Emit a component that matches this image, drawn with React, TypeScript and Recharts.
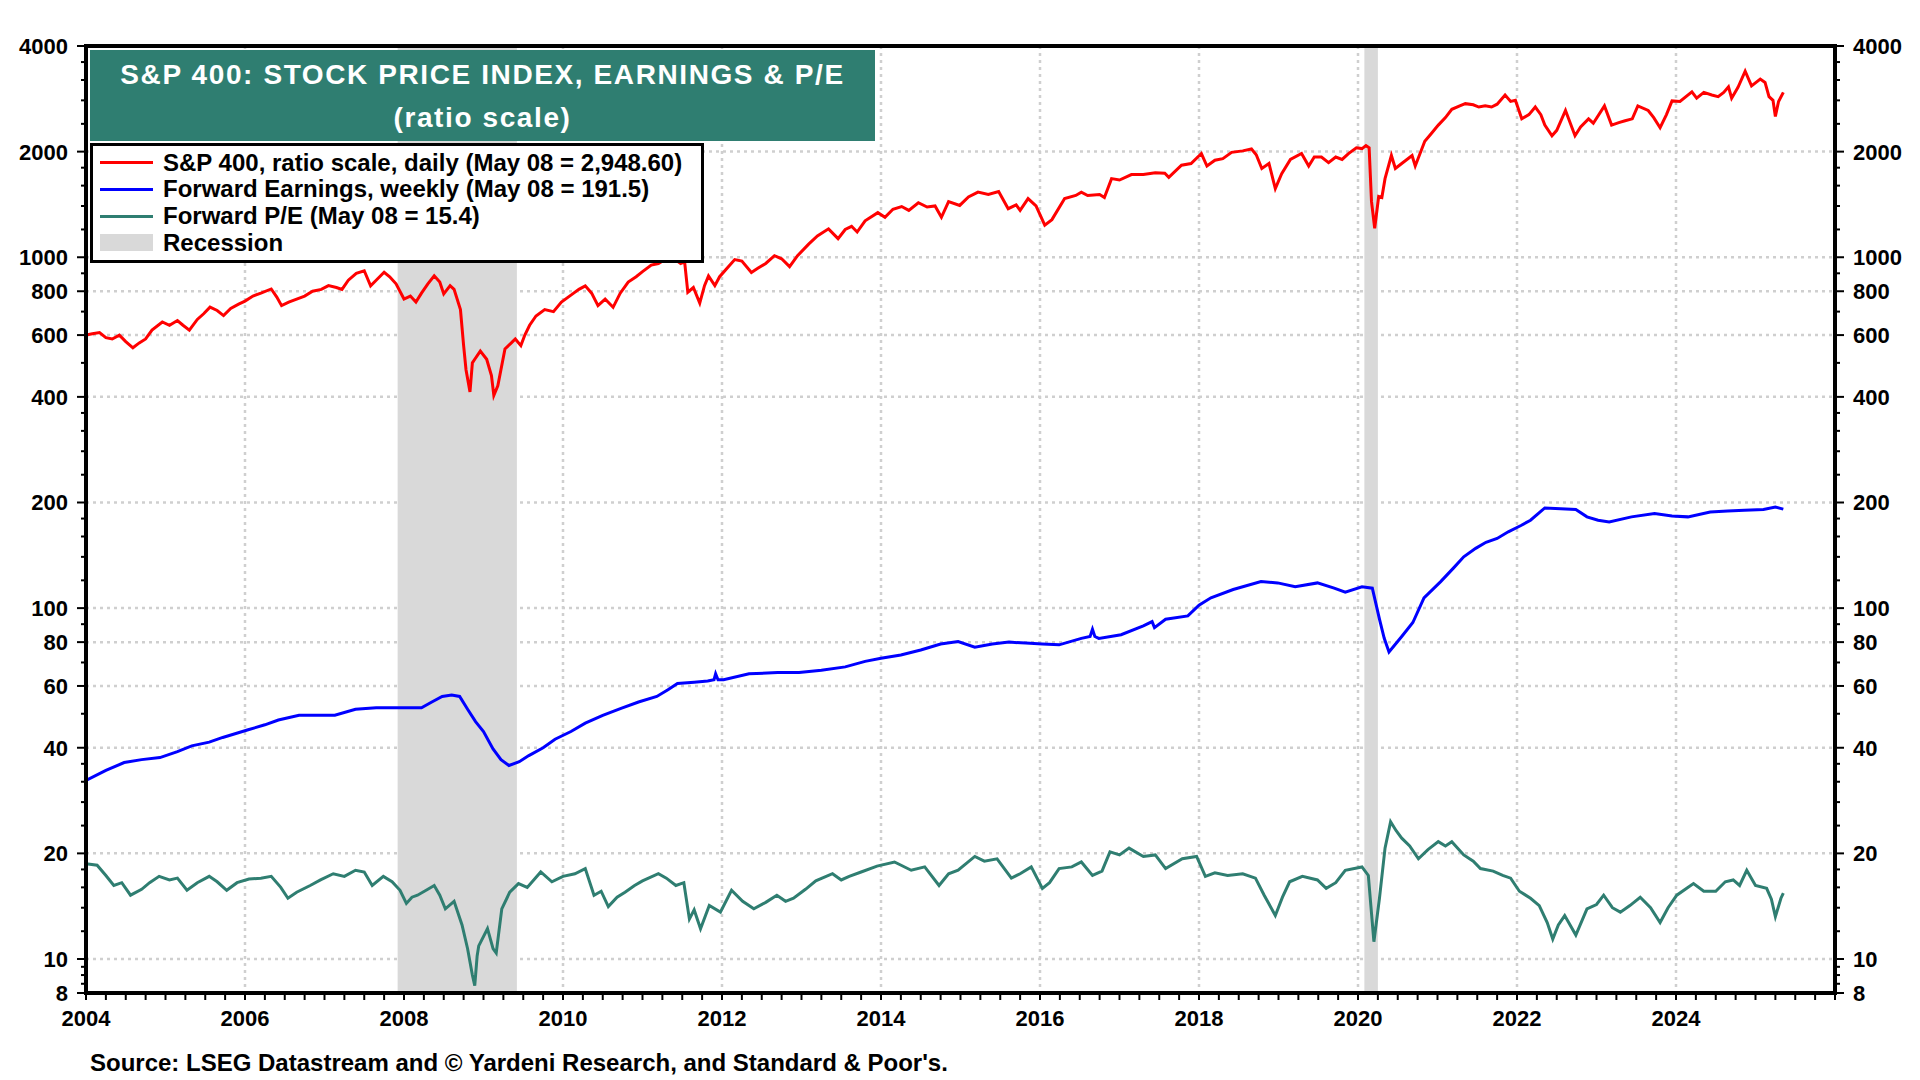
import { ComposedChart, Line, XAxis, YAxis, CartesianGrid, ReferenceArea } from "recharts";

// S&P 400 midcap: price (daily), forward earnings (weekly), forward P/E, ratio scale.
const FONT = "'Liberation Sans', Arial, Helvetica, sans-serif";
const TEAL = "#2F7E71";

const priceDates = [
  2004.0, 2004.08, 2004.17, 2004.25, 2004.33, 2004.42, 2004.5, 2004.59, 2004.67, 2004.75, 2004.83, 2004.96,
  2005.05, 2005.15, 2005.22, 2005.3, 2005.4, 2005.48, 2005.56, 2005.65, 2005.73, 2005.82, 2005.92,
  2006.0, 2006.1, 2006.2, 2006.33, 2006.4, 2006.46, 2006.55, 2006.65, 2006.75, 2006.85, 2006.96,
  2007.05, 2007.15, 2007.22, 2007.3, 2007.4, 2007.5, 2007.58, 2007.65, 2007.75, 2007.82, 2007.9,
  2008.0, 2008.08, 2008.15, 2008.22, 2008.3, 2008.38, 2008.45, 2008.5, 2008.58, 2008.63, 2008.71, 2008.75, 2008.78, 2008.83, 2008.86, 2008.89, 2008.96,
  2009.04, 2009.1, 2009.13, 2009.18, 2009.27, 2009.35, 2009.4, 2009.47, 2009.52, 2009.58, 2009.66, 2009.77, 2009.88, 2009.98,
  2010.1, 2010.2, 2010.28, 2010.36, 2010.44, 2010.53, 2010.63, 2010.72, 2010.82, 2010.92,
  2011.0, 2011.11, 2011.2, 2011.3, 2011.4, 2011.48, 2011.53, 2011.57, 2011.64, 2011.72, 2011.78, 2011.83, 2011.91, 2011.97,
  2012.08, 2012.16, 2012.25, 2012.37, 2012.45, 2012.55, 2012.66, 2012.75, 2012.85, 2012.95,
  2013.09, 2013.2, 2013.34, 2013.46, 2013.55, 2013.63, 2013.7, 2013.8, 2013.96,
  2014.05, 2014.15, 2014.26, 2014.35, 2014.47, 2014.58, 2014.68, 2014.76, 2014.85, 2014.99,
  2015.1, 2015.22, 2015.35, 2015.48, 2015.6, 2015.7, 2015.75, 2015.85, 2015.95,
  2016.06, 2016.15, 2016.31, 2016.45, 2016.52, 2016.6, 2016.75, 2016.81, 2016.9,
  2017.0, 2017.15, 2017.3, 2017.45, 2017.57, 2017.62, 2017.78, 2017.9,
  2018.03, 2018.1, 2018.2, 2018.3, 2018.41, 2018.55, 2018.66, 2018.72, 2018.79, 2018.88, 2018.96,
  2019.04, 2019.15, 2019.29, 2019.38, 2019.45, 2019.54, 2019.63, 2019.72, 2019.8, 2019.88, 2019.98,
  2020.05, 2020.1, 2020.14, 2020.17, 2020.21, 2020.26, 2020.3, 2020.34, 2020.42, 2020.47, 2020.55, 2020.68, 2020.72, 2020.84, 2020.92,
  2021.01, 2021.1, 2021.18, 2021.28, 2021.35, 2021.45, 2021.52, 2021.6, 2021.68, 2021.75, 2021.85, 2021.92, 2021.98,
  2022.06, 2022.15, 2022.23, 2022.3, 2022.35, 2022.44, 2022.5, 2022.61, 2022.73, 2022.8, 2022.9, 2022.96,
  2023.1, 2023.19, 2023.28, 2023.36, 2023.45, 2023.52, 2023.65, 2023.72, 2023.8, 2023.88, 2023.95,
  2024.05, 2024.2, 2024.26, 2024.35, 2024.45, 2024.53, 2024.6, 2024.66, 2024.7, 2024.78, 2024.87, 2024.95,
  2025.06, 2025.12, 2025.17, 2025.22, 2025.25, 2025.29, 2025.35,
];
const priceValues = [
  600, 605, 610, 590, 585, 600, 575, 552, 570, 585, 620, 654,
  640, 660, 640, 620, 665, 690, 721, 705, 682, 715, 735,
  750, 775, 790, 812, 770, 728, 745, 760, 775, 800, 810,
  830, 820, 810, 860, 900, 915, 829, 860, 906, 880, 840,
  760, 775, 745, 790, 840, 885, 850, 786, 830, 810, 709, 560, 478, 413, 500, 512, 540,
  512, 460, 404, 430, 548, 570, 585, 560, 600, 640, 680, 709, 700, 745,
  780, 810, 829, 790, 728, 760, 720, 790, 850, 880,
  910, 950, 960, 990, 990, 960, 970, 795, 820, 740, 830, 885, 830, 880,
  940, 985, 975, 905, 930, 960, 1010, 990, 940, 1010,
  1090, 1150, 1205, 1130, 1200, 1225, 1180, 1270, 1340,
  1300, 1370, 1395, 1360, 1430, 1390, 1400, 1300, 1440, 1405,
  1485, 1533, 1510, 1540, 1375, 1410, 1360, 1470, 1400,
  1235, 1280, 1470, 1500, 1533, 1500, 1510, 1480, 1675,
  1660, 1720, 1720, 1740, 1735, 1690, 1830, 1850,
  1975, 1820, 1890, 1910, 1990, 2010, 2035, 1960, 1790, 1850, 1570,
  1730, 1900, 1975, 1820, 1930, 1930, 1860, 1930, 1900, 1975, 2050,
  2040, 2080, 2050, 1440, 1210, 1490, 1480, 1675, 1950, 1790, 1850, 1950, 1820, 2140, 2250,
  2380, 2500, 2640, 2700, 2740, 2720, 2680, 2700, 2680, 2730, 2900, 2780, 2800,
  2480, 2550, 2680, 2550, 2380, 2220, 2300, 2620, 2220, 2350, 2480, 2410,
  2700, 2380, 2420, 2450, 2480, 2700, 2620, 2500, 2340, 2550, 2790,
  2780, 2960, 2840, 2950, 2900, 2870, 2950, 3060, 2840, 3050, 3390, 3080,
  3220, 3150, 2870, 2800, 2520, 2780, 2950,
];

const epsDates = [
  2004.0, 2004.25, 2004.48, 2004.7, 2004.93,
  2005.15, 2005.33, 2005.55, 2005.72,
  2006.04, 2006.25, 2006.42, 2006.68, 2006.9,
  2007.13, 2007.39, 2007.65, 2007.9,
  2008.22, 2008.35, 2008.48, 2008.6, 2008.7, 2008.8, 2008.9,
  2009.0, 2009.12, 2009.22, 2009.32, 2009.45, 2009.57, 2009.75, 2009.9,
  2010.1, 2010.28, 2010.5, 2010.73, 2010.95,
  2011.18, 2011.32, 2011.44, 2011.65, 2011.82, 2011.9, 2011.92, 2011.95,
  2012.02, 2012.34, 2012.7, 2012.97,
  2013.25, 2013.55, 2013.8,
  2014.0, 2014.25, 2014.5, 2014.75, 2014.97,
  2015.18, 2015.4, 2015.61, 2015.82,
  2016.03, 2016.24, 2016.52, 2016.63, 2016.66, 2016.69, 2016.74,
  2017.02, 2017.3, 2017.41, 2017.44, 2017.58, 2017.86,
  2018.0, 2018.15, 2018.43, 2018.78, 2018.99,
  2019.21, 2019.49, 2019.7, 2019.84,
  2020.05, 2020.18, 2020.27, 2020.33, 2020.39, 2020.55, 2020.69, 2020.83,
  2021.04, 2021.2, 2021.33, 2021.48, 2021.61, 2021.75, 2021.89,
  2022.05, 2022.17, 2022.35, 2022.55, 2022.74, 2022.88,
  2023.02, 2023.16, 2023.44, 2023.73, 2023.95,
  2024.15, 2024.43, 2024.65, 2024.86,
  2025.1, 2025.25, 2025.35,
];
const epsValues = [
  32.3, 34.5, 36.3, 37.0, 37.5,
  39.0, 40.5, 41.5, 42.8,
  45.0, 46.5, 48.0, 49.5, 49.5,
  49.5, 51.5, 52.0, 52.0,
  52.0, 54.0, 56.0, 56.5, 56.0, 51.5, 47.5,
  44.5, 39.7, 37.0, 35.6, 36.5, 38.0, 40.0, 42.3,
  44.5, 47.0, 49.5, 51.8, 54.0,
  56.0, 58.5, 61.0, 61.5, 62.0, 62.5, 65.0, 62.5,
  62.5, 65.0, 65.5, 65.5,
  66.5, 68.0, 70.5,
  72.0, 73.5, 76.0, 79.0, 80.3,
  77.4, 79.0, 80.0, 79.5,
  79.0, 78.6, 82.0, 83.0, 87.0, 83.0, 82.0,
  84.0, 89.0, 91.5, 88.0, 93.0, 95.0,
  102.0, 107.0, 113.0, 119.0, 118.0,
  115.0, 118.0, 114.0, 111.0,
  115.0, 114.0, 93.0, 82.0, 75.0, 83.0, 91.0, 107.0,
  119.0, 130.0, 140.0, 148.0, 154.0, 158.0, 165.0,
  172.0, 178.0, 193.0, 192.0, 191.0, 182.0,
  178.0, 176.0, 182.0, 186.0, 183.0,
  182.0, 188.0, 189.0, 190.0,
  191.0, 194.0, 191.5,
];

const peDates = [
  2004.0, 2004.14, 2004.25, 2004.35, 2004.45, 2004.56, 2004.7, 2004.8, 2004.92,
  2005.05, 2005.15, 2005.27, 2005.4, 2005.55, 2005.65, 2005.77, 2005.9,
  2006.05, 2006.2, 2006.33, 2006.45, 2006.54, 2006.65, 2006.82, 2006.95,
  2007.11, 2007.25, 2007.39, 2007.5, 2007.6, 2007.74, 2007.85, 2007.95,
  2008.03, 2008.1, 2008.17, 2008.3, 2008.38, 2008.45, 2008.52, 2008.63, 2008.73, 2008.8, 2008.86, 2008.89, 2008.92, 2008.94,
  2009.05, 2009.12, 2009.16, 2009.23, 2009.33, 2009.44, 2009.55, 2009.72, 2009.86,
  2010.0, 2010.15, 2010.28, 2010.39, 2010.48, 2010.57, 2010.68, 2010.78, 2010.9,
  2011.0, 2011.2, 2011.3, 2011.42, 2011.52, 2011.59, 2011.65, 2011.73, 2011.84, 2011.98,
  2012.12, 2012.26, 2012.4, 2012.55, 2012.69, 2012.8, 2012.9,
  2013.05, 2013.18, 2013.39, 2013.5, 2013.6, 2013.75, 2013.95,
  2014.17, 2014.38, 2014.55, 2014.73, 2014.85, 2014.97,
  2015.18, 2015.3, 2015.46, 2015.64, 2015.75, 2015.89,
  2016.03, 2016.12, 2016.24, 2016.4, 2016.52, 2016.66, 2016.78, 2016.88,
  2017.0, 2017.12, 2017.3, 2017.45, 2017.58, 2017.79, 2017.97,
  2018.08, 2018.2, 2018.36, 2018.55, 2018.71, 2018.82, 2018.96,
  2019.05, 2019.14, 2019.3, 2019.49, 2019.6, 2019.72, 2019.84,
  2020.05, 2020.13, 2020.17, 2020.2, 2020.27, 2020.34, 2020.41, 2020.48, 2020.55, 2020.65, 2020.76, 2020.88,
  2021.01, 2021.1, 2021.18, 2021.33, 2021.45, 2021.54, 2021.7, 2021.82, 2021.92,
  2022.03, 2022.17, 2022.28, 2022.38, 2022.45, 2022.52, 2022.6, 2022.74, 2022.88,
  2023.0, 2023.09, 2023.2, 2023.3, 2023.42, 2023.55, 2023.68, 2023.8, 2023.9,
  2024.01, 2024.22, 2024.35, 2024.5, 2024.62, 2024.72, 2024.8, 2024.89,
  2025.0, 2025.14, 2025.2, 2025.25, 2025.32, 2025.35,
];
const peValues = [
  18.7, 18.5, 17.3, 16.2, 16.5, 15.2, 15.8, 16.5, 17.2,
  16.8, 17.0, 15.7, 16.5, 17.2, 16.6, 15.7, 16.5,
  16.9, 17.0, 17.2, 16.0, 14.9, 15.5, 16.2, 16.8,
  17.5, 17.2, 17.9, 17.7, 16.2, 17.2, 16.6, 15.7,
  14.4, 15.0, 15.2, 15.8, 16.2, 15.2, 13.9, 14.6, 12.5, 10.7, 9.0, 8.4, 10.2, 10.9,
  12.2, 10.7, 10.4, 13.9, 15.5, 16.4, 16.0, 17.7, 16.6,
  17.2, 17.5, 18.1, 15.2, 15.6, 14.1, 15.0, 15.5, 16.2,
  16.7, 17.5, 17.0, 16.2, 16.5, 13.0, 13.8, 12.2, 14.2, 13.6,
  15.7, 14.6, 13.9, 14.5, 15.2, 14.6, 14.9,
  15.8, 16.7, 17.5, 16.8, 17.2, 17.7, 18.4,
  18.9, 17.9, 18.3, 16.2, 17.5, 17.9,
  19.6, 19.0, 19.3, 17.0, 17.5, 18.3,
  15.9, 16.5, 18.1, 18.3, 18.9, 17.3, 17.8, 20.2,
  19.8, 20.7, 19.6, 19.8, 18.1, 19.3, 19.6,
  17.2, 17.6, 17.3, 17.5, 17.0, 15.2, 13.3,
  15.0, 16.6, 17.2, 16.8, 15.9, 16.5, 17.9,
  18.3, 17.3, 13.5, 11.2, 14.9, 20.7, 24.6, 23.2, 22.1, 21.0, 19.3, 20.5,
  21.6, 21.0, 21.6, 19.8, 19.0, 18.1, 17.8, 17.3, 17.0,
  15.6, 14.9, 14.2, 12.7, 11.4, 12.5, 13.3, 11.7, 13.9,
  14.3, 15.2, 14.0, 13.6, 14.2, 15.0, 14.0, 12.7, 14.0,
  15.2, 16.4, 15.6, 15.6, 16.6, 16.8, 16.2, 17.9,
  16.2, 15.9, 14.8, 13.2, 14.9, 15.4,
];

const recessions = [
  [2007.92, 2009.42],
  [2020.08, 2020.25],
];

const yLabels = [4000, 2000, 1000, 800, 600, 400, 200, 100, 80, 60, 40, 20, 10, 8];
const yMinor = [
  3600, 3200, 2800, 2400, 1800, 1600, 1400, 1200, 900, 700, 500,
  360, 320, 280, 240, 180, 160, 140, 120, 90, 70, 50,
  36, 32, 28, 24, 18, 16, 14, 12, 9.5, 9, 8.5,
];
const yTicks = [...yLabels, ...yMinor].sort((a, b) => b - a);
const yearLabels = [2004, 2006, 2008, 2010, 2012, 2014, 2016, 2018, 2020, 2022, 2024];
const gridYears = yearLabels.slice(1);

const xTicks: number[] = [];
for (let y = 2004; y < 2026; y++) xTicks.push(y, y + 0.25, y + 0.5, y + 0.75);
xTicks.push(2026);

const legendItems = [
  { label: "S&P 400, ratio scale, daily (May 08 = 2,948.60)", color: "#FF0000", kind: "line" },
  { label: "Forward Earnings, weekly (May 08 = 191.5)", color: "#0000FF", kind: "line" },
  { label: "Forward P/E (May 08 = 15.4)", color: TEAL, kind: "line" },
  { label: "Recession", color: "#D9D9D9", kind: "box" },
];

const toPoints = (dates: number[], values: number[]) => dates.map((t, i) => ({ t, v: values[i] }));
const priceData = toPoints(priceDates, priceValues);
const epsData = toPoints(epsDates, epsValues);
const peData = toPoints(peDates, peValues);

const labelStyle = { fontFamily: FONT, fontWeight: 700, fontSize: 22, fill: "#000" };

function LeftTick(props: any) {
  const { x, y, payload } = props;
  const major = yLabels.includes(payload.value);
  return (
    <g>
      <line x1={x - 2} x2={x - (major ? 9 : 5)} y1={y} y2={y} stroke="#000" strokeWidth={2} />
      {major && (
        <text x={x - 18} y={y} dy="0.36em" textAnchor="end" {...labelStyle}>
          {payload.value}
        </text>
      )}
    </g>
  );
}

function RightTick(props: any) {
  const { x, y, payload } = props;
  const major = yLabels.includes(payload.value);
  return (
    <g>
      <line x1={x + 2} x2={x + (major ? 9 : 5)} y1={y} y2={y} stroke="#000" strokeWidth={2} />
      {major && (
        <text x={x + 18} y={y} dy="0.36em" textAnchor="start" {...labelStyle}>
          {payload.value}
        </text>
      )}
    </g>
  );
}

function BottomTick(props: any) {
  const { x, y, payload } = props;
  const label = yearLabels.includes(payload.value);
  return (
    <g>
      <line x1={x} x2={x} y1={y + 2} y2={y + 7} stroke="#000" strokeWidth={2} />
      {label && (
        <text x={x} y={y + 33} textAnchor="middle" {...labelStyle}>
          {payload.value}
        </text>
      )}
    </g>
  );
}

export default function App() {
  return (
    <div
      style={{
        position: "absolute",
        left: 0,
        top: 0,
        width: 1920,
        height: 1080,
        background: "#fff",
        fontFamily: FONT,
        overflow: "hidden",
      }}
    >
      <ComposedChart width={1920} height={1080} margin={{ top: 46, right: 0, bottom: 0, left: 0 }}>
        <CartesianGrid
          xAxisId="x"
          yAxisId="L"
          stroke="#CFCFCF"
          strokeWidth={2.5}
          strokeDasharray="3 4"
          horizontalValues={yLabels}
          verticalValues={gridYears}
        />
        <XAxis
          xAxisId="x"
          type="number"
          dataKey="t"
          domain={[2004, 2026]}
          ticks={xTicks}
          interval={0}
          allowDataOverflow
          axisLine={false}
          tickLine={false}
          tickSize={0}
          tickMargin={0}
          height={87}
          tick={(p: any) => <BottomTick {...p} />}
        />
        <YAxis
          yAxisId="L"
          orientation="left"
          scale="log"
          domain={[8, 4000]}
          ticks={yTicks}
          interval={0}
          allowDataOverflow
          axisLine={false}
          tickLine={false}
          tickSize={0}
          tickMargin={0}
          width={86}
          tick={(p: any) => <LeftTick {...p} />}
        />
        <YAxis
          yAxisId="R"
          orientation="right"
          scale="log"
          domain={[8, 4000]}
          ticks={yTicks}
          interval={0}
          allowDataOverflow
          axisLine={false}
          tickLine={false}
          tickSize={0}
          tickMargin={0}
          width={85}
          tick={(p: any) => <RightTick {...p} />}
        />
        {recessions.map(([a, b]) => (
          <ReferenceArea
            key={a}
            xAxisId="x"
            yAxisId="L"
            x1={a}
            x2={b}
            fill="#D9D9D9"
            fillOpacity={1}
            stroke="none"
          />
        ))}
        <Line
          xAxisId="x"
          yAxisId="R"
          data={peData}
          dataKey="v"
          type="linear"
          stroke={TEAL}
          strokeWidth={3}
          dot={false}
          activeDot={false}
          isAnimationActive={false}
        />
        <Line
          xAxisId="x"
          yAxisId="L"
          data={epsData}
          dataKey="v"
          type="linear"
          stroke="#0000FF"
          strokeWidth={3}
          dot={false}
          activeDot={false}
          isAnimationActive={false}
        />
        <Line
          xAxisId="x"
          yAxisId="L"
          data={priceData}
          dataKey="v"
          type="linear"
          stroke="#FF0000"
          strokeWidth={3}
          dot={false}
          activeDot={false}
          isAnimationActive={false}
        />
      </ComposedChart>

      {/* plot frame */}
      <div
        style={{
          position: "absolute",
          left: 84,
          top: 44,
          width: 1753,
          height: 951,
          border: "4px solid #000",
          boxSizing: "border-box",
          pointerEvents: "none",
        }}
      />

      {/* title block */}
      <div
        style={{
          position: "absolute",
          left: 90,
          top: 50,
          width: 785,
          height: 91,
          background: TEAL,
          color: "#fff",
          fontWeight: 700,
          fontSize: 28,
          letterSpacing: 1.6,
          lineHeight: "43px",
          paddingTop: 3,
          boxSizing: "border-box",
          textAlign: "center",
        }}
      >
        <div>S&amp;P 400: STOCK PRICE INDEX, EARNINGS &amp; P/E</div>
        <div>(ratio scale)</div>
      </div>

      {/* legend */}
      <div
        style={{
          position: "absolute",
          left: 90,
          top: 143,
          width: 614,
          height: 120,
          border: "3px solid #000",
          boxSizing: "border-box",
          background: "#fff",
        }}
      >
        {legendItems.map((item, i) => (
          <div
            key={item.label}
            style={{
              position: "absolute",
              left: 0,
              top: 3.7 + 26.67 * i,
              height: 26,
              width: 600,
            }}
          >
            {item.kind === "line" ? (
              <div
                style={{
                  position: "absolute",
                  left: 7,
                  top: 11.5,
                  width: 53,
                  height: 3,
                  background: item.color,
                }}
              />
            ) : (
              <div
                style={{
                  position: "absolute",
                  left: 7,
                  top: 4.5,
                  width: 53,
                  height: 17,
                  background: item.color,
                }}
              />
            )}
            <div
              style={{
                position: "absolute",
                left: 70,
                top: 0,
                lineHeight: "26px",
                fontSize: 24,
                fontWeight: 700,
                color: "#000",
                whiteSpace: "nowrap",
              }}
            >
              {item.label}
            </div>
          </div>
        ))}
      </div>

      {/* source */}
      <div
        style={{
          position: "absolute",
          left: 90,
          top: 1050,
          lineHeight: "26px",
          fontSize: 24,
          fontWeight: 700,
          color: "#000",
          whiteSpace: "nowrap",
        }}
      >
        Source: LSEG Datastream and © Yardeni Research, and Standard &amp; Poor's.
      </div>
    </div>
  );
}
